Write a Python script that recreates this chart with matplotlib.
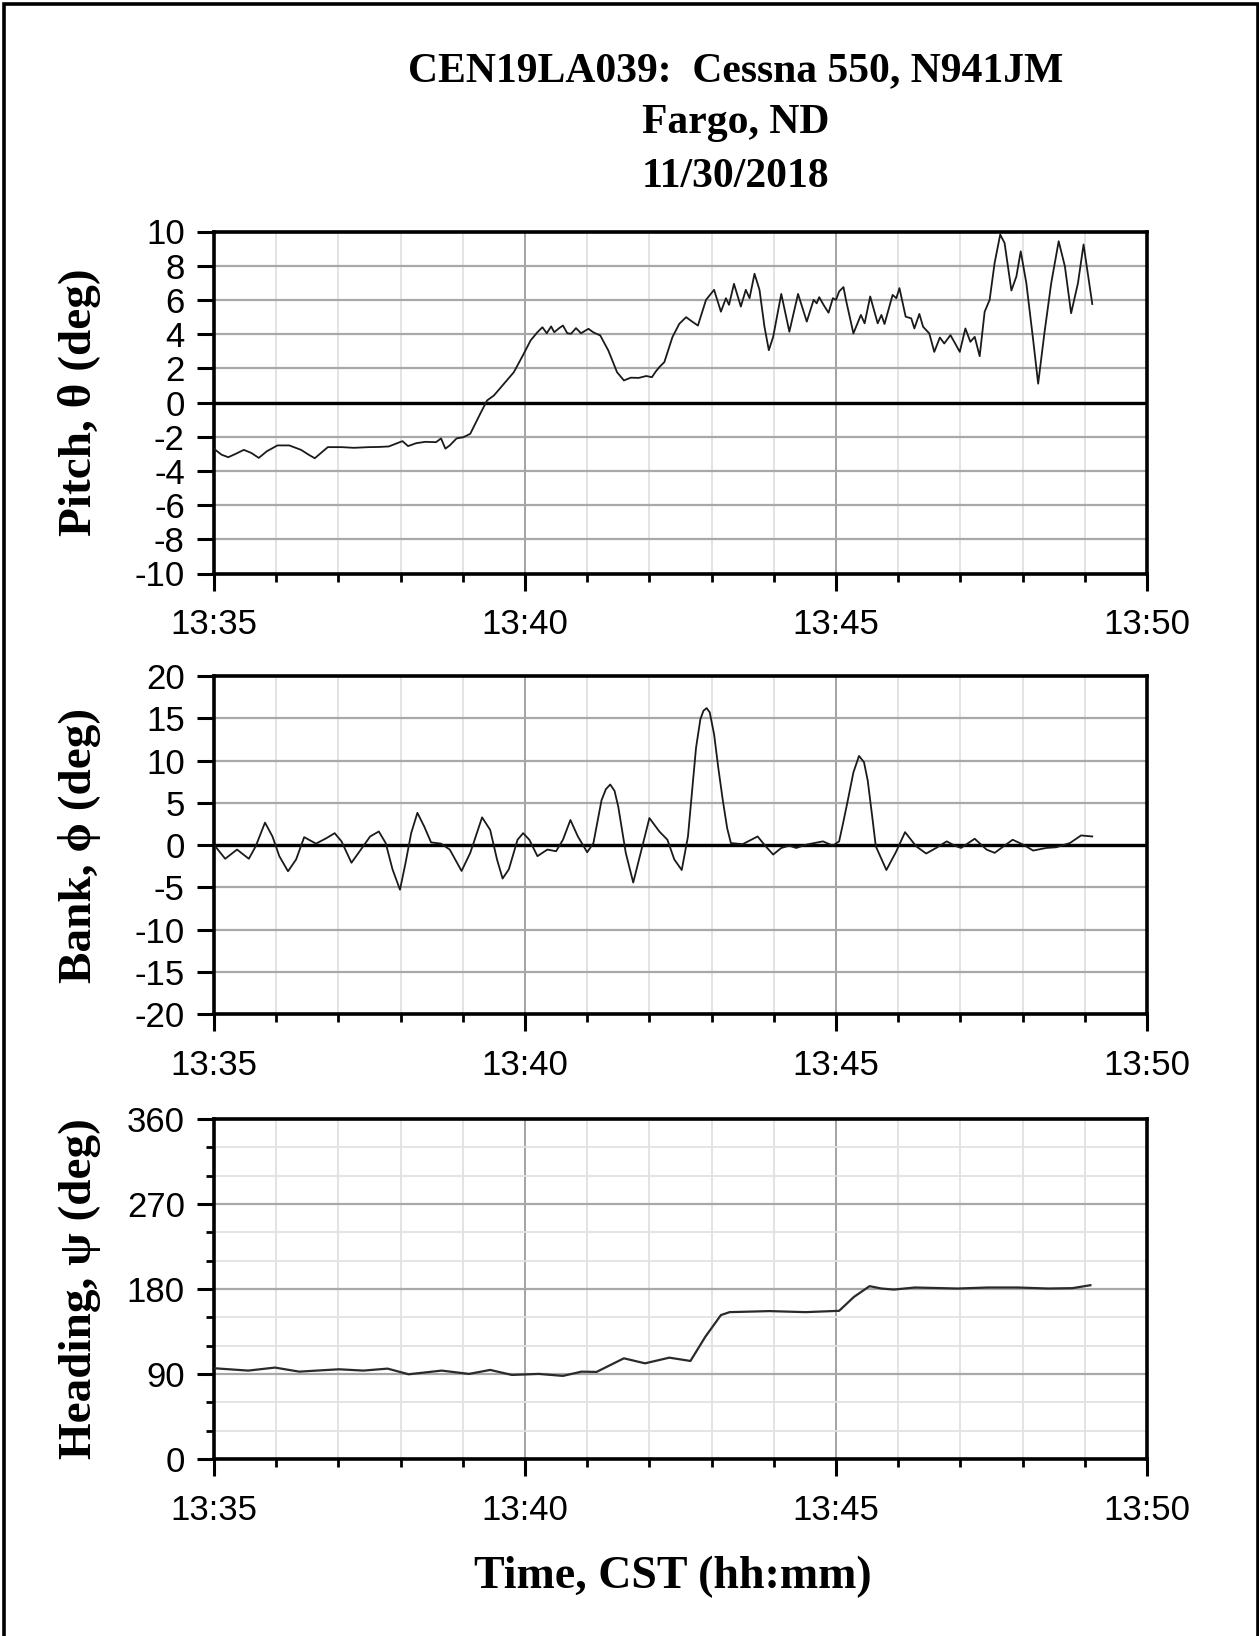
import matplotlib
matplotlib.use("Agg")
import matplotlib.pyplot as plt
from matplotlib.ticker import MultipleLocator, FuncFormatter
from matplotlib.patches import Rectangle

# ---------------- data (minutes after 13:35 CST) ----------------
pitch_t = [0.00, 0.12, 0.23, 0.35, 0.48, 0.60, 0.72, 0.85, 1.02, 1.21, 1.40, 1.52, 1.62, 1.72,
           1.83, 2.05, 2.25, 2.49, 2.65, 2.81, 3.03, 3.12, 3.25, 3.40, 3.57, 3.65, 3.72, 3.79,
           3.90, 4.01, 4.12, 4.28, 4.39, 4.50, 4.66, 4.82, 4.98, 5.09, 5.20, 5.28, 5.35, 5.42,
           5.47, 5.55, 5.61, 5.68, 5.74, 5.82, 5.90, 6.02, 6.10, 6.21, 6.34, 6.48, 6.59, 6.70,
           6.83, 6.95, 7.04, 7.10, 7.16, 7.24, 7.37, 7.48, 7.59, 7.68, 7.78, 7.91, 8.04, 8.15,
           8.23, 8.28, 8.36, 8.47, 8.55, 8.61, 8.69, 8.77, 8.85, 8.92, 8.99, 9.12, 9.25, 9.39,
           9.53, 9.64, 9.69, 9.73, 9.80, 9.88, 9.95, 10.00, 10.05, 10.12, 10.16, 10.28, 10.40,
           10.46, 10.55, 10.67, 10.73, 10.78, 10.91, 10.97, 11.02, 11.12, 11.21, 11.26, 11.34,
           11.40, 11.50, 11.58, 11.67, 11.74, 11.84, 11.91, 11.99, 12.08, 12.16, 12.23, 12.31,
           12.39, 12.47, 12.55, 12.64, 12.71, 12.82, 12.90, 12.97, 13.06, 13.17, 13.25, 13.35,
           13.46, 13.58, 13.68, 13.78, 13.89, 13.98, 14.12]
pitch_v = [-2.71, -3.05, -3.20, -3.00, -2.77, -2.95, -3.24, -2.85, -2.51, -2.51, -2.77, -3.05,
           -3.26, -2.95, -2.61, -2.61, -2.65, -2.61, -2.60, -2.57, -2.26, -2.55, -2.38, -2.30,
           -2.32, -2.10, -2.70, -2.51, -2.10, -2.03, -1.83, -0.66, 0.12, 0.41, 1.09, 1.77, 2.85,
           3.63, 4.11, 4.40, 4.05, 4.45, 4.11, 4.35, 4.50, 4.05, 4.02, 4.35, 4.05, 4.31, 4.10,
           3.92, 3.04, 1.77, 1.29, 1.45, 1.44, 1.55, 1.48, 1.80, 2.07, 2.36, 3.82, 4.60, 4.99,
           4.75, 4.50, 6.00, 6.59, 5.31, 6.10, 5.71, 6.94, 5.61, 6.59, 6.10, 7.53, 6.59, 4.43,
           3.06, 3.84, 6.35, 4.14, 6.35, 4.73, 6.00, 5.80, 6.16, 5.71, 5.25, 6.10, 6.00, 6.49,
           6.75, 6.00, 4.04, 5.12, 4.63, 6.20, 4.63, 5.12, 4.59, 6.29, 6.10, 6.69, 5.02, 4.92,
           4.33, 5.18, 4.43, 4.04, 2.96, 3.80, 3.45, 3.94, 3.49, 2.96, 4.33, 3.55, 3.84, 2.71,
           5.31, 6.00, 8.16, 9.82, 9.33, 6.55, 7.37, 8.84, 6.98, 3.65, 1.10, 4.04, 6.98, 9.43,
           7.96, 5.22, 6.98, 9.24, 5.76]

bank_t = [0.02, 0.18, 0.37, 0.56, 0.67, 0.82, 0.94, 1.05, 1.19, 1.32, 1.45, 1.64, 1.81, 1.94,
          2.05, 2.21, 2.38, 2.51, 2.65, 2.76, 2.87, 2.99, 3.08, 3.17, 3.27, 3.38, 3.49, 3.65,
          3.79, 3.98, 4.12, 4.31, 4.44, 4.55, 4.64, 4.74, 4.88, 4.97, 5.07, 5.20, 5.36, 5.50,
          5.61, 5.73, 5.85, 6.00, 6.10, 6.23, 6.30, 6.37, 6.44, 6.50, 6.62, 6.74, 6.86, 7.00,
          7.16, 7.29, 7.40, 7.52, 7.62, 7.70, 7.75, 7.82, 7.87, 7.92, 7.97, 8.04, 8.11, 8.18,
          8.25, 8.31, 8.50, 8.74, 8.87, 8.99, 9.12, 9.25, 9.36, 9.52, 9.79, 9.95, 10.05,
          10.12, 10.19, 10.28, 10.37, 10.45, 10.51, 10.58, 10.64, 10.81, 10.97, 11.11,
          11.29, 11.45, 11.61, 11.78, 11.91, 12.01, 12.23, 12.42, 12.55, 12.84, 13.01, 13.17,
          13.38, 13.54, 13.76, 13.94, 14.12]
bank_v = [-0.16, -1.63, -0.54, -1.63, -0.16, 2.65, 1.01, -1.32, -3.11, -1.71, 0.93, 0.16, 0.82,
          1.40, 0.43, -2.10, -0.35, 1.01, 1.60, 0.23, -2.88, -5.29, -2.10, 1.40, 3.81, 2.18,
          0.31, 0.16, -0.54, -3.07, -0.93, 3.27, 1.79, -1.71, -3.97, -2.88, 0.62, 1.40, 0.62,
          -1.32, -0.54, -0.74, 0.62, 2.96, 1.01, -0.86, 0.23, 5.29, 6.60, 7.16, 6.40, 4.51,
          -0.93, -4.44, -0.93, 3.19, 1.60, 0.62, -1.71, -2.96, 1.01, 7.50, 11.52, 14.90, 15.90,
          16.20, 15.70, 13.10, 9.00, 5.30, 2.00, 0.23, 0.10, 1.01, -0.16, -1.13, -0.35, -0.08,
          -0.35, 0.04, 0.43, -0.08, 0.43, 2.80, 5.29, 8.60, 10.54, 9.80, 7.63, 3.50, -0.16,
          -2.96, -0.74, 1.52, -0.16, -1.01, -0.35, 0.43, -0.08, -0.35, 0.74, -0.54, -0.93,
          0.62, 0.04, -0.66, -0.35, -0.27, 0.23, 1.13, 1.01]

heading_t = [0.00, 0.55, 0.98, 1.37, 2.01, 2.40, 2.79, 3.13, 3.66, 4.10, 4.44, 4.79, 5.22,
             5.61, 5.91, 6.15, 6.59, 6.93, 7.32, 7.66, 7.90, 8.15, 8.29, 8.93, 9.51, 10.05,
             10.29, 10.54, 10.73, 10.93, 11.27, 11.95, 12.44, 12.92, 13.41, 13.80, 14.09]
heading_v = [96.1, 93.6, 96.8, 92.5, 95.0, 93.6, 95.7, 89.7, 93.6, 90.1, 94.3, 89.0, 90.1,
             88.0, 92.5, 92.2, 106.6, 101.3, 107.3, 103.8, 129.5, 152.4, 155.5, 156.6, 155.5,
             156.9, 171.7, 183.0, 180.5, 179.4, 181.6, 180.5, 181.6, 181.6, 180.5, 180.9, 184.0]

title_lines = ["CEN19LA039:  Cessna 550, N941JM", "Fargo, ND", "11/30/2018"]
ylabels = ["Pitch, \u03b8 (deg)", "Bank, \u03d5 (deg)", "Heading, \u03c8 (deg)"]
xlabel = "Time, CST (hh:mm)"
start_hour, start_min = 13, 35

# ---------------- figure ----------------
plt.rcParams['font.family'] = ['Liberation Sans', 'DejaVu Sans']
plt.rcParams['axes.unicode_minus'] = False
SERIF = ['Liberation Serif', 'DejaVu Serif']

fig = plt.figure(figsize=(12.59, 16.36), dpi=100)

W, H = 1259.0, 1636.0
left = 214 / W
width = 933 / W
ax_p = fig.add_axes([left, 1 - 573.5 / H, width, 342 / H])
ax_b = fig.add_axes([left, 1 - 1014 / H, width, 338 / H])
ax_h = fig.add_axes([left, 1 - 1459 / H, width, 340 / H])


def hhmm(x, pos):
    m = int(round(x)) + start_min
    return f"{start_hour + m // 60}:{m % 60:02d}"


def setup(ax, ylim, ystep, yminor=None):
    ax.set_xlim(0, 15)
    ax.set_ylim(*ylim)
    ax.xaxis.set_major_locator(MultipleLocator(5))
    ax.xaxis.set_minor_locator(MultipleLocator(1))
    ax.xaxis.set_major_formatter(FuncFormatter(hhmm))
    ax.yaxis.set_major_locator(MultipleLocator(ystep))
    if yminor:
        ax.yaxis.set_minor_locator(MultipleLocator(yminor))
        ax.grid(which='minor', axis='y', color='#e2e2e2', lw=1.3)
    ax.grid(which='minor', axis='x', color='#dedede', lw=1.2)
    ax.grid(which='major', axis='x', color='#8a8a8a', lw=1.1)
    ax.grid(which='major', axis='y', color='#a8a8a8', lw=1.6)
    ax.set_axisbelow(True)
    ax.tick_params(which='major', direction='out', length=12, width=2.2,
                   labelsize=25, pad=9, top=False, right=False, colors='black')
    ax.tick_params(axis='x', which='major', pad=13)
    ax.tick_params(which='minor', direction='out', length=6, width=2.0,
                   top=False, right=False)
    for s in ax.spines.values():
        s.set_linewidth(2.6)
        s.set_color('black')


setup(ax_p, (-10, 10), 2)
setup(ax_b, (-20, 20), 5)
setup(ax_h, (0, 360), 90, yminor=30)

ax_p.axhline(0, color='black', lw=2.4, zorder=2)
ax_b.axhline(0, color='black', lw=2.4, zorder=2)

ax_p.plot(pitch_t, pitch_v, color='#1a1a1a', lw=1.3, zorder=3)
ax_b.plot(bank_t, bank_v, color='#1a1a1a', lw=1.3, zorder=3)
ax_h.plot(heading_t, heading_v, color='#2a2a2a', lw=1.6, zorder=3)

# y labels
for ax, lab in zip([ax_p, ax_b, ax_h], ylabels):
    pos = ax.get_position()
    fig.text(0.063, pos.y0 + pos.height / 2, lab, rotation=90, ha='center', va='center',
             fontsize=34, fontweight='bold', family=SERIF)

# title
for y, line in zip([71, 123, 177], title_lines):
    fig.text(0.584, 1 - y / H, line, ha='center', va='center', fontsize=30,
             fontweight='bold', family=SERIF)

fig.text(0.5345, 1 - 1577 / H, xlabel, ha='center', va='center', fontsize=33,
         fontweight='bold', family=SERIF)

# outer frame
fig.add_artist(Rectangle((4 / W, -0.02), 1 - 5.5 / W, 1.02 - 4 / H, transform=fig.transFigure,
                         fill=False, lw=2.6, edgecolor='black'))

fig.savefig("out.png", dpi=100)
